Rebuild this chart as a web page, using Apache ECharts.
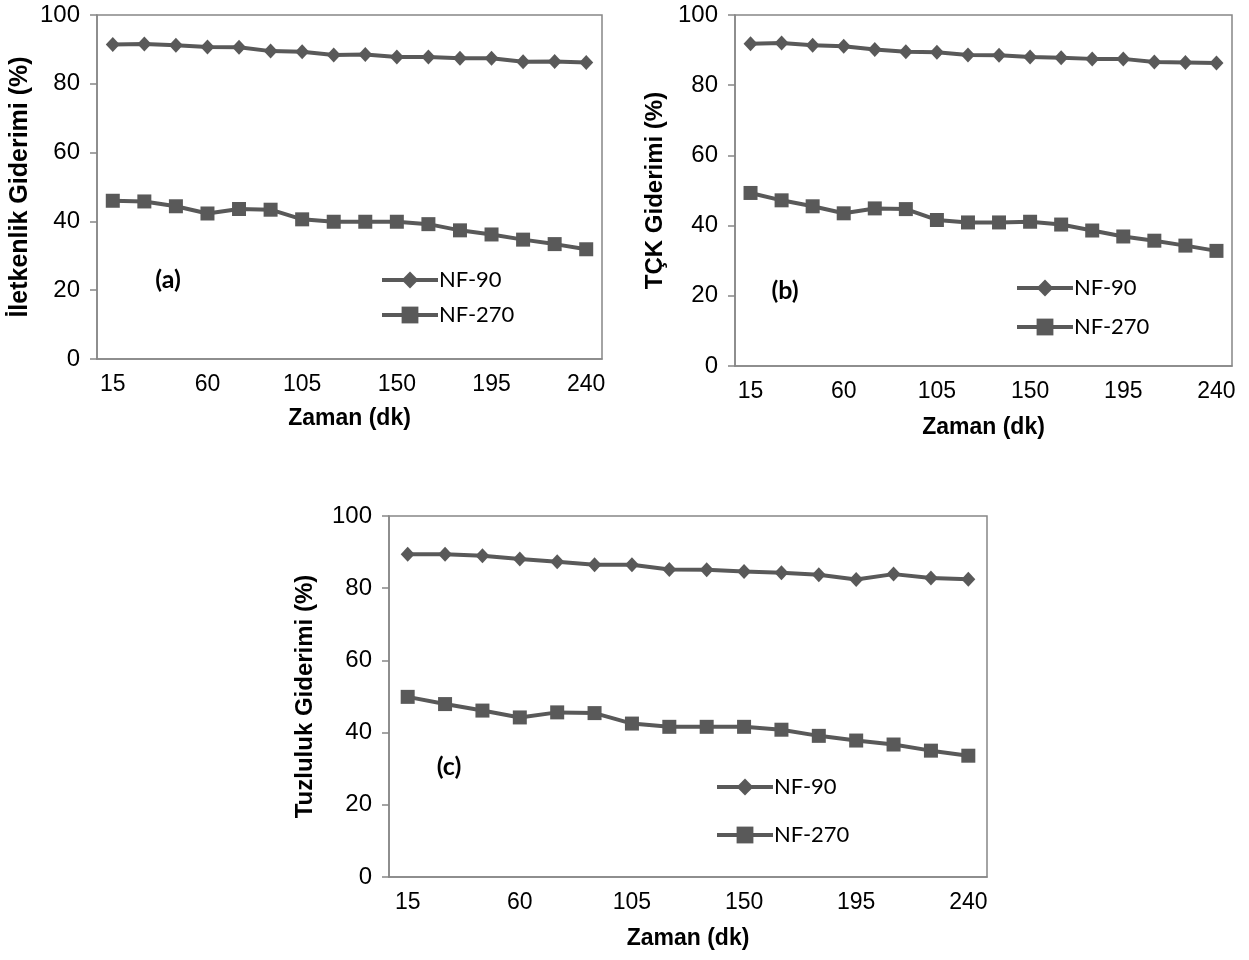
<!DOCTYPE html>
<html>
<head>
<meta charset="utf-8">
<title>Giderim - Zaman</title>
<script src="https://cdn.jsdelivr.net/npm/echarts@6/dist/echarts.min.js"></script>
<style>
  html, body { margin: 0; padding: 0; background: #fff; }
  #main { width: 1249px; height: 960px; }
</style>
</head>
<body>
<div id="main"></div>
<script>
// zaman (dk)
var zaman = ['15', '30', '45', '60', '75', '90', '105', '120', '135', '150', '165', '180', '195', '210', '225', '240'];

// (a) iletkenlik giderimi (%)
var iletkenlikNF90 = [91.4, 91.6, 91.2, 90.7, 90.6, 89.5, 89.3, 88.4, 88.5, 87.8, 87.8, 87.4, 87.4, 86.4, 86.5, 86.2];
var iletkenlikNF270 = [46.0, 45.8, 44.4, 42.3, 43.6, 43.4, 40.6, 39.9, 39.9, 39.9, 39.2, 37.4, 36.2, 34.7, 33.4, 31.9];

// (b) TCK giderimi (%)
var tckNF90 = [91.8, 92.0, 91.4, 91.1, 90.2, 89.5, 89.4, 88.6, 88.5, 88.0, 87.8, 87.5, 87.5, 86.6, 86.5, 86.3];
var tckNF270 = [49.3, 47.2, 45.5, 43.5, 44.9, 44.7, 41.6, 40.9, 40.9, 41.1, 40.3, 38.6, 36.9, 35.7, 34.3, 32.8];

// (c) tuzluluk giderimi (%)
var tuzlulukNF90 = [89.4, 89.4, 89.0, 88.1, 87.3, 86.5, 86.5, 85.2, 85.1, 84.6, 84.3, 83.7, 82.4, 83.9, 82.8, 82.5];
var tuzlulukNF270 = [49.9, 47.9, 46.1, 44.2, 45.6, 45.4, 42.5, 41.6, 41.6, 41.6, 40.8, 39.1, 37.8, 36.7, 35.0, 33.6];

var yTicks = [0, 20, 40, 60, 80, 100];

var chart = echarts.init(document.getElementById('main'));

var gri = '#878787';
var cizgi = '#595959';

function xEkseni (i, gap) {
  return {
    type: 'category',
    gridIndex: i,
    data: zaman,
    boundaryGap: true,
    name: 'Zaman (dk)',
    nameLocation: 'middle',
    nameGap: gap,
    nameTextStyle: { fontFamily: 'Liberation Sans', fontWeight: 'bold', fontSize: 23, color: '#000' },
    axisLine: { lineStyle: { color: gri, width: 1.5 } },
    axisTick: { interval: 0, alignWithLabel: true, length: 5, lineStyle: { color: gri, width: 1.5 } },
    axisLabel: { interval: 2, margin: 14, fontFamily: 'Liberation Sans', fontSize: 23, color: '#000' },
    splitLine: { show: false }
  }
}

function yEkseni (i, ad, gap, boyut) {
  return {
    type: 'value',
    gridIndex: i,
    min: yTicks[0],
    max: yTicks[yTicks.length - 1],
    interval: 20,
    name: ad,
    nameLocation: 'middle',
    nameGap: gap,
    nameTextStyle: { fontFamily: 'Liberation Sans', fontWeight: 'bold', fontSize: boyut, color: '#000' },
    axisLine: { show: true, lineStyle: { color: gri, width: 1.5 } },
    axisTick: { show: true, length: 7, lineStyle: { color: gri, width: 1.5 } },
    axisLabel: { margin: 17, fontFamily: 'Liberation Sans', fontSize: 24, color: '#000' },
    splitLine: { show: false }
  }
}

function seri (i, ad, veri, sembol) {
  return {
    type: 'line',
    name: ad,
    xAxisIndex: i,
    yAxisIndex: i,
    data: veri,
    symbol: sembol,
    symbolSize: sembol === 'diamond' ? [14, 15] : 14,
    showSymbol: true,
    color: cizgi,
    lineStyle: { color: cizgi, width: 4 },
    itemStyle: { color: cizgi },
    animation: false
  }
}

function lejant (left, top, gap) {
  return {
    orient: 'vertical',
    left: left,
    top: top,
    padding: 0,
    itemGap: gap,
    itemWidth: 56,
    itemHeight: 21,
    selectedMode: false,
    lineStyle: { width: 4, color: cizgi },
    itemStyle: { color: cizgi },
    data: ['NF-90', 'NF-270'],
    textStyle: { fontFamily: 'Lato', fontSize: 22, lineHeight: 24, color: '#000', padding: [0, 0, 0, -4] }
  }
}

function etiket (x, y, yazi) {
  return {
    type: 'text',
    x: x,
    y: y,
    style: {
      text: yazi,
      font: 'bold 25px Lato',
      fill: '#000',
      align: 'center',
      verticalAlign: 'middle'
    }
  }
}

var option = {
  backgroundColor: '#fff',
  grid: [
    { left: 97, top: 15, width: 505, height: 344, show: true, borderColor: gri, borderWidth: 1.5 },
    { left: 735, top: 15, width: 497, height: 351, show: true, borderColor: gri, borderWidth: 1.5 },
    { left: 389, top: 516, width: 598, height: 361, show: true, borderColor: gri, borderWidth: 1.5 }
  ],
  xAxis: [xEkseni(0, 48), xEkseni(1, 50), xEkseni(2, 50)],
  yAxis: [
    yEkseni(0, 'İletkenlik Giderimi (%)', 64, 25),
    yEkseni(1, 'TÇK Giderimi (%)', 68, 24),
    yEkseni(2, 'Tuzluluk Giderimi (%)', 72, 24)
  ],
  legend: [
    lejant(380, 268, 11),
    lejant(1015, 276, 15),
    lejant(715, 775, 24)
  ],
  graphic: [
    etiket(168, 280, '(a)'),
    etiket(785, 291, '(b)'),
    etiket(449, 767, '(c)')
  ],
  series: [
    seri(0, 'NF-90', iletkenlikNF90, 'diamond'),
    seri(0, 'NF-270', iletkenlikNF270, 'rect'),
    seri(1, 'NF-90', tckNF90, 'diamond'),
    seri(1, 'NF-270', tckNF270, 'rect'),
    seri(2, 'NF-90', tuzlulukNF90, 'diamond'),
    seri(2, 'NF-270', tuzlulukNF270, 'rect')
  ]
};

chart.setOption(option);
</script>
</body>
</html>
